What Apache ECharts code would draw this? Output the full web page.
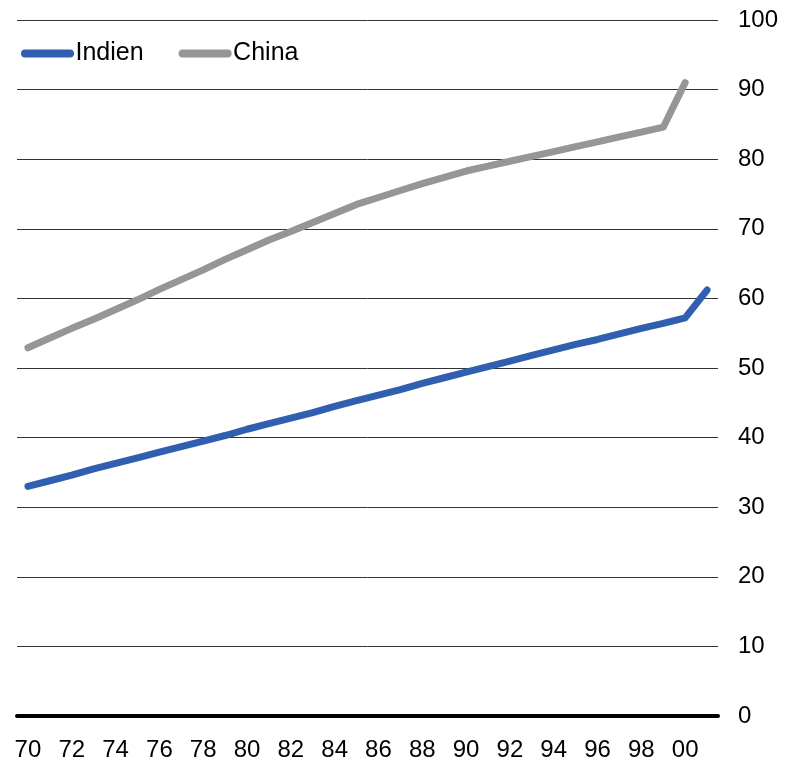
<!DOCTYPE html>
<html>
<head>
<meta charset="utf-8">
<script src="https://cdn.jsdelivr.net/npm/echarts@6/dist/echarts.min.js"></script>
<style>html,body{margin:0;padding:0;background:#fff}#c{width:785px;height:768px}</style>
</head>
<body>
<div id="c"></div>
<script>
const years = ['1970','1971','1972','1973','1974','1975','1976','1977','1978','1979','1980','1981','1982','1983','1984','1985','1986','1987','1988','1989','1990','1991','1992','1993','1994','1995','1996','1997','1998','1999','2000','2001'];
const indien = [33.0,33.8,34.6,35.5,36.3,37.1,37.9,38.7,39.5,40.3,41.2,42.0,42.8,43.6,44.5,45.3,46.1,46.9,47.8,48.6,49.4,50.2,51.0,51.8,52.6,53.4,54.1,54.9,55.7,56.4,57.2,61.2];
const china = [52.9,54.3,55.7,57.0,58.4,59.8,61.3,62.7,64.1,65.6,67.0,68.4,69.6,70.9,72.2,73.5,74.5,75.5,76.5,77.4,78.3,79.0,79.7,80.4,81.1,81.8,82.5,83.2,83.9,84.6,91.0,null];
const yTicks = [0,10,20,30,40,50,60,70,80,90,100];

const chart = echarts.init(document.getElementById('c'));
const capsule = 'path://M4,0 H49 A4,4 0 0 1 49,8 H4 A4,4 0 0 1 4,0 Z';
chart.setOption({
  animation: false,
  backgroundColor: '#ffffff',
  textStyle: { fontFamily: 'Liberation Sans, Arial, sans-serif' },
  grid: { left: 17, right: 67, top: 20, bottom: 52 },
  legend: {
    left: 16, top: 36,
    itemWidth: 54, itemHeight: 8, itemGap: 35,
    textStyle: { fontSize: 25, color: '#000', padding: [0,0,0,-4] },
    data: [
      { name: 'Indien', icon: capsule },
      { name: 'China', icon: capsule }
    ]
  },
  xAxis: {
    type: 'category',
    data: years,
    boundaryGap: true,
    axisLine: { show: true, lineStyle: { color: '#000', width: 4, cap: 'round' } },
    axisTick: { show: false },
    axisLabel: {
      interval: 1, margin: 22, fontSize: 24, color: '#000',
      formatter: v => v.slice(2)
    },
    splitLine: { show: false }
  },
  yAxis: {
    type: 'value',
    position: 'right',
    min: yTicks[0], max: yTicks[yTicks.length-1], interval: 10,
    axisLine: { show: false },
    axisTick: { show: false },
    axisLabel: { margin: 20, fontSize: 24, color: '#000' },
    splitLine: { lineStyle: { color: '#333333', width: 1 } }
  },
  series: [
    { name: 'Indien', type: 'line', data: indien, symbol: 'none',
      itemStyle: { color: '#2F5FAE' },
      lineStyle: { color: '#2F5FAE', width: 7, cap: 'round', join: 'round' } },
    { name: 'China', type: 'line', data: china, symbol: 'none',
      itemStyle: { color: '#969696' },
      lineStyle: { color: '#969696', width: 7, cap: 'round', join: 'round' } }
  ]
});
</script>
</body>
</html>
